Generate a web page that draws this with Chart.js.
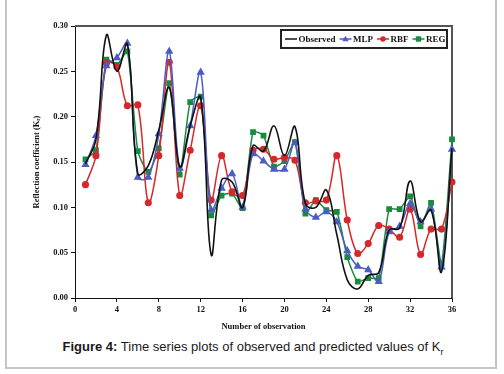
<!DOCTYPE html>
<html>
<head>
<meta charset="utf-8">
<script src="https://cdn.jsdelivr.net/npm/chart.js@4.4.1/dist/chart.umd.min.js"></script>
<style>
  html, body { margin: 0; padding: 0; background: #fff; }
  body { width: 504px; height: 374px; position: relative; overflow: hidden; }
  #frame { position: absolute; left: 5px; top: -4px; width: 488px; height: 369px; border: 2px solid #c4c4c4; }
  #graf { position: absolute; left: 28px; top: 0; }
  #caption { position: absolute; left: 0; width: 506px; top: 339px; text-align: center;
    font-family: "Liberation Sans", Arial, sans-serif; font-size: 13px; color: #1a1a1a; }
  #caption sub { font-size: 9px; }
</style>
</head>
<body>
<div id="frame"></div>
<canvas id="graf" width="476" height="334"></canvas>
<div id="caption"><b>Figure 4:</b> Time series plots of observed and predicted values of K<sub>r</sub></div>
<script>
// numero de observacion
const observaciones = [1, 2, 3, 4, 5, 6, 7, 8, 9, 10, 11, 12, 13, 14, 15, 16, 17, 18,
  19, 20, 21, 22, 23, 24, 25, 26, 27, 28, 29, 30, 31, 32, 33, 34, 35, 36];

// valores
const observado = [0.148, 0.175, 0.290, 0.250, 0.280, 0.137, 0.146, 0.185, 0.232, 0.145, 0.190, 0.221,
  0.048, 0.130, 0.128, 0.100, 0.168, 0.162, 0.190, 0.157, 0.189, 0.104, 0.100, 0.119,
  0.070, 0.020, 0.010, 0.025, 0.028, 0.075, 0.077, 0.129, 0.084, 0.097, 0.029, 0.165];
const mlp = [0.147, 0.179, 0.256, 0.265, 0.281, 0.133, 0.133, 0.181, 0.272, 0.143, 0.190, 0.249,
  0.097, 0.121, 0.137, 0.100, 0.159, 0.151, 0.142, 0.142, 0.171, 0.098, 0.089, 0.095,
  0.084, 0.052, 0.035, 0.031, 0.018, 0.073, 0.079, 0.104, 0.084, 0.098, 0.034, 0.164];
const rbf = [0.125, 0.157, 0.259, 0.255, 0.212, 0.213, 0.105, 0.157, 0.260, 0.113, 0.163, 0.212,
  0.108, 0.157, 0.117, 0.113, 0.163, 0.164, 0.153, 0.155, 0.152, 0.105, 0.107, 0.108,
  0.157, 0.086, 0.049, 0.060, 0.080, 0.076, 0.067, 0.098, 0.048, 0.076, 0.076, 0.128];
const reg = [0.153, 0.163, 0.263, 0.257, 0.272, 0.162, 0.139, 0.165, 0.237, 0.136, 0.216, 0.222,
  0.091, 0.113, 0.115, 0.099, 0.183, 0.179, 0.145, 0.151, 0.172, 0.093, 0.108, 0.097,
  0.095, 0.045, 0.018, 0.022, 0.022, 0.098, 0.098, 0.112, 0.079, 0.105, 0.038, 0.175];

const fuente = "'Liberation Serif', 'Times New Roman', 'DejaVu Serif', serif";

function puntos(serie) {
  return observaciones.map((x, i) => ({ x: x, y: serie[i] }));
}

// marco superior/derecho + leyenda dentro del area
const marcoLeyenda = {
  id: 'marcoLeyenda',
  beforeDatasetsDraw(chart) {
    const ctx = chart.ctx;
    const a = chart.chartArea;
    ctx.save();
    ctx.strokeStyle = '#555';
    ctx.lineWidth = 2;
    ctx.beginPath();
    ctx.moveTo(a.left, a.top);
    ctx.lineTo(a.right, a.top);
    ctx.lineTo(a.right, a.bottom);
    ctx.stroke();
    ctx.restore();
  },
  afterDraw(chart) {
    const ctx = chart.ctx;
    const a = chart.chartArea;
    ctx.save();
    // leyenda
    const bx = a.right - 171, by = a.top + 4, bw = 166, bh = 18;
    ctx.fillStyle = '#fff';
    ctx.fillRect(bx, by, bw, bh);
    ctx.strokeStyle = '#222';
    ctx.lineWidth = 2;
    ctx.strokeRect(bx, by, bw, bh);
    ctx.font = "bold 9px " + fuente;
    ctx.textBaseline = 'middle';
    let x = bx + 4;
    const yc = by + bh / 2;
    chart.data.datasets.forEach(ds => {
      ctx.strokeStyle = ds.borderColor;
      ctx.lineWidth = 1.5;
      ctx.beginPath();
      ctx.moveTo(x, yc);
      ctx.lineTo(x + 12, yc);
      ctx.stroke();
      const cx = x + 6;
      ctx.fillStyle = ds.borderColor;
      if (ds.pointRadius > 0) {
        ctx.beginPath();
        if (ds.pointStyle === 'triangle') {
          ctx.moveTo(cx, yc - 3.2); ctx.lineTo(cx + 3.2, yc + 2.3); ctx.lineTo(cx - 3.2, yc + 2.3);
          ctx.closePath();
        } else if (ds.pointStyle === 'rect') {
          ctx.rect(cx - 2.7, yc - 2.7, 5.4, 5.4);
        } else {
          ctx.arc(cx, yc, 2.7, 0, Math.PI * 2);
        }
        ctx.fill();
      }
      x += 13.5;
      ctx.fillStyle = '#111';
      ctx.fillText(ds.label, x, yc + 0.5);
      x += ctx.measureText(ds.label).width + 4;
    });
    ctx.restore();
  }
};

const ctx = document.getElementById("graf").getContext("2d");
new Chart(ctx, {
  type: 'line',
  data: {
    datasets: [
      { label: 'Observed', data: puntos(observado), borderColor: '#111', borderWidth: 1.6,
        pointRadius: 0, tension: 0.4, clip: 6 },
      { label: 'MLP', data: puntos(mlp), borderColor: '#4b5cc4', backgroundColor: '#4b5cc4',
        borderWidth: 1.5, pointStyle: 'triangle', pointRadius: 3.3, tension: 0.35, clip: 6 },
      { label: 'RBF', data: puntos(rbf), borderColor: '#d6282b', backgroundColor: '#d6282b',
        borderWidth: 1.5, pointStyle: 'circle', pointRadius: 2.8, tension: 0.35, clip: 6 },
      { label: 'REG', data: puntos(reg), borderColor: '#178c3c', backgroundColor: '#178c3c',
        borderWidth: 1.5, pointStyle: 'rect', pointRadius: 3, tension: 0.2, clip: 6 }
    ]
  },
  options: {
    responsive: false,
    animation: false,
    layout: { padding: { top: 26, right: 52, left: 0, bottom: 0 } },
    plugins: { legend: { display: false }, tooltip: { enabled: false } },
    scales: {
      x: {
        type: 'linear', min: 0, max: 36,
        ticks: { stepSize: 4, color: '#111', padding: 3, font: { family: fuente, size: 8.5, weight: 'bold' } },
        grid: { drawOnChartArea: false, drawTicks: true, tickLength: 4, color: '#111' },
        border: { display: true, color: '#111', width: 1 },
        title: { display: true, text: 'Number of observation', color: '#111', padding: { top: 4, bottom: 2 },
          font: { family: fuente, size: 8.5, weight: 'bold' } },
        afterFit(scale) { scale.height = 36; }
      },
      y: {
        min: 0, max: 0.30,
        ticks: { stepSize: 0.05, color: '#111', padding: 3, font: { family: fuente, size: 8.5, weight: 'bold' },
          callback: v => v.toFixed(2) },
        grid: { drawOnChartArea: false, drawTicks: true, tickLength: 4, color: '#111' },
        border: { display: true, color: '#111', width: 1 },
        title: { display: true, text: 'Reflection coefficient (Kᵣ)', color: '#111', padding: { top: 4, bottom: 2 },
          font: { family: fuente, size: 8.5, weight: 'bold' } },
        afterFit(scale) { scale.width = 47; }
      }
    }
  },
  plugins: [marcoLeyenda]
});
</script>
</body>
</html>
